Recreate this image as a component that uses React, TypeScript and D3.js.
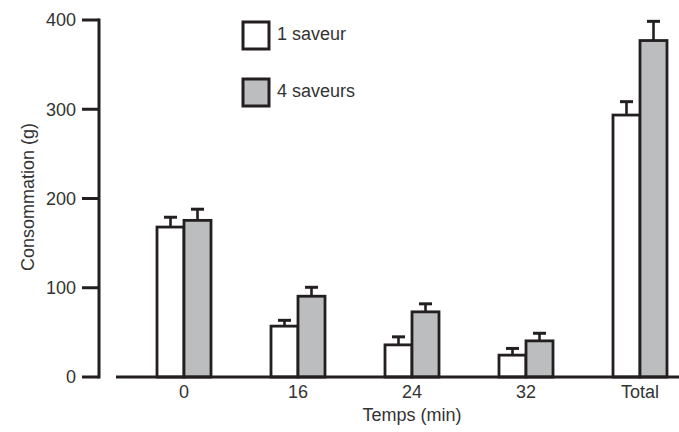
import { useEffect, useRef } from "react";
import * as d3 from "d3";

// Consommation (g) par période, moyenne + erreur standard
const CATEGORIES = ["0", "16", "24", "32", "Total"];
const SERIES = ["1 saveur", "4 saveurs"];
const ONE_FLAVOR = [168, 57, 36, 24.5, 293.5];
const ONE_FLAVOR_ERR = [11, 6.5, 9, 7.5, 15];
const FOUR_FLAVORS = [175.5, 90.5, 73, 40.5, 377];
const FOUR_FLAVORS_ERR = [12.5, 10, 9, 8.5, 21.5];
const Y_TICKS = [0, 100, 200, 300, 400];

const INK = "#231f20";
const TEXT = "#333333";
const FILLS = ["#ffffff", "#bcbdbf"];
const FONT = "'Liberation Sans', Arial, sans-serif";
const FS = 18;

export default function App() {
  const svgRef = useRef<SVGSVGElement | null>(null);

  useEffect(() => {
    const width = 679;
    const height = 432;
    const svg = d3.select(svgRef.current);
    svg.selectAll("*").remove();
    svg.attr("width", width).attr("height", height);

    const y = d3.scaleLinear().domain([0, 400]).range([377, 20]);
    const x = d3.scalePoint<string>().domain(CATEGORIES).range([184, 640]);
    const barW = 27;

    const axisX = 99;

    // ----- Y axis -----
    svg.append("line")
      .attr("x1", axisX).attr("x2", axisX)
      .attr("y1", y(400) - 1.5).attr("y2", y(0) + 1.5)
      .attr("stroke", INK).attr("stroke-width", 3);
    Y_TICKS.forEach((t) => {
      svg.append("line")
        .attr("x1", 82).attr("x2", axisX)
        .attr("y1", y(t)).attr("y2", y(t))
        .attr("stroke", INK).attr("stroke-width", 3);
      svg.append("text")
        .attr("x", 76).attr("y", y(t)).attr("dy", "0.36em")
        .attr("text-anchor", "end")
        .attr("font-family", FONT).attr("font-size", FS)
        .attr("fill", TEXT)
        .text(String(t));
    });

    svg.append("text")
      .attr("transform", `translate(34,197) rotate(-90)`)
      .attr("text-anchor", "middle")
      .attr("font-family", FONT).attr("font-size", FS)
      .attr("fill", TEXT)
      .text("Consommation (g)");

    // ----- Bars -----
    const series = [
      { vals: ONE_FLAVOR, errs: ONE_FLAVOR_ERR },
      { vals: FOUR_FLAVORS, errs: FOUR_FLAVORS_ERR },
    ];
    series.forEach((s, si) => {
      CATEGORIES.forEach((c, i) => {
        const x0 = (x(c) as number) + (si - 1) * barW;
        const top = y(s.vals[i]);
        const errTop = y(s.vals[i] + s.errs[i]);
        const cx = x0 + barW / 2;
        svg.append("line")
          .attr("x1", cx).attr("x2", cx)
          .attr("y1", top).attr("y2", errTop)
          .attr("stroke", INK).attr("stroke-width", 2.6);
        svg.append("line")
          .attr("x1", cx - 6.5).attr("x2", cx + 6.5)
          .attr("y1", errTop).attr("y2", errTop)
          .attr("stroke", INK).attr("stroke-width", 3);
        svg.append("rect")
          .attr("x", x0).attr("y", top)
          .attr("width", barW).attr("height", y(0) - top)
          .attr("fill", FILLS[si])
          .attr("stroke", INK).attr("stroke-width", 2.8);
      });
    });

    // ----- X axis -----
    svg.append("line")
      .attr("x1", 116).attr("x2", width)
      .attr("y1", y(0)).attr("y2", y(0))
      .attr("stroke", INK).attr("stroke-width", 3);
    CATEGORIES.forEach((c) => {
      svg.append("text")
        .attr("x", x(c) as number).attr("y", 398)
        .attr("text-anchor", "middle")
        .attr("font-family", FONT).attr("font-size", FS)
        .attr("fill", TEXT)
        .text(c);
    });
    svg.append("text")
      .attr("x", 412).attr("y", 421)
      .attr("text-anchor", "middle")
      .attr("font-family", FONT).attr("font-size", FS)
      .attr("fill", TEXT)
      .text("Temps (min)");

    // ----- Legend -----
    SERIES.forEach((name, i) => {
      const top = 22 + i * 57;
      svg.append("rect")
        .attr("x", 243).attr("y", top)
        .attr("width", 26).attr("height", 27)
        .attr("fill", FILLS[i])
        .attr("stroke", INK).attr("stroke-width", 3);
      svg.append("text")
        .attr("x", 277).attr("y", top + 18)
        .attr("font-family", FONT).attr("font-size", FS)
        .attr("fill", TEXT)
        .text(name);
    });
  }, []);

  return (
    <svg
      ref={svgRef}
      style={{ position: "absolute", left: 0, top: 0, background: "#fff" }}
    />
  );
}
